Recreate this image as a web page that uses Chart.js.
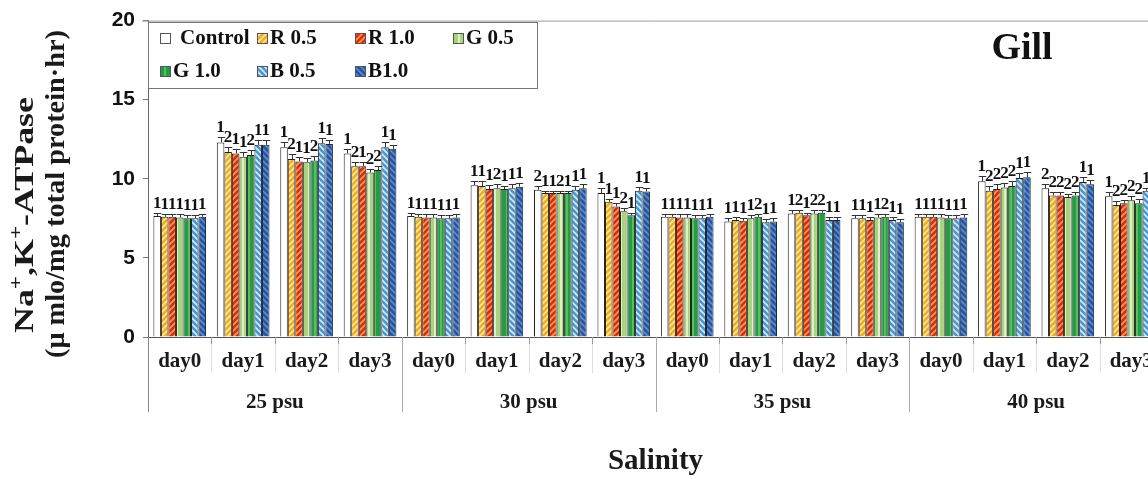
<!DOCTYPE html>
<html>
<head>
<meta charset="utf-8">
<script src="https://cdn.jsdelivr.net/npm/chart.js@4.4.1/dist/chart.umd.min.js"></script>
<style>
  html, body { margin: 0; padding: 0; background: #fff; overflow: hidden; }
  #wrap { width: 1166px; height: 479px; }
</style>
</head>
<body>
<div id="wrap"><canvas id="graph" width="1166" height="479"></canvas></div>
<script>
// categories
var dayLabels = ['day0', 'day1', 'day2', 'day3', 'day0', 'day1', 'day2', 'day3',
                 'day0', 'day1', 'day2', 'day3', 'day0', 'day1', 'day2', 'day3'];
var psuLabels = ['25 psu', '30 psu', '35 psu', '40 psu'];
var seriesNames = ['Control', 'R 0.5', 'R 1.0', 'G 0.5', 'G 1.0', 'B 0.5', 'B1.0'];

// values (25 psu d0-d3, 30 psu d0-d3, 35 psu d0-d3, 40 psu d0-d3)
var control = [7.65, 12.3, 12.0, 11.6, 7.65, 9.6, 9.3, 9.1, 7.6, 7.3, 7.8, 7.5, 7.6, 9.85, 9.4, 8.9];
var r05 = [7.6, 11.7, 11.25, 10.8, 7.6, 9.55, 9.1, 8.55, 7.6, 7.4, 7.85, 7.5, 7.6, 9.25, 8.95, 8.35];
var r10 = [7.6, 11.6, 11.1, 10.8, 7.55, 9.35, 9.1, 8.25, 7.55, 7.35, 7.7, 7.4, 7.6, 9.35, 8.95, 8.45];
var g05 = [7.55, 11.4, 11.05, 10.4, 7.55, 9.4, 9.1, 7.95, 7.55, 7.5, 7.8, 7.55, 7.55, 9.45, 8.85, 8.65];
var g10 = [7.5, 11.5, 11.15, 10.55, 7.5, 9.35, 9.1, 7.7, 7.5, 7.6, 7.85, 7.6, 7.5, 9.55, 8.95, 8.45];
var b05 = [7.5, 12.15, 12.25, 12.0, 7.5, 9.4, 9.3, 9.25, 7.5, 7.25, 7.4, 7.4, 7.5, 10.05, 9.8, 9.25];
var b10 = [7.6, 12.15, 12.2, 11.9, 7.55, 9.5, 9.4, 9.2, 7.6, 7.3, 7.4, 7.25, 7.55, 10.1, 9.65, 9.2];

// error bars
var controlErr = [0.2, 0.35, 0.3, 0.3, 0.2, 0.25, 0.25, 0.3, 0.2, 0.2, 0.2, 0.2, 0.2, 0.3, 0.3, 0.25];
var r05Err = [0.2, 0.3, 0.3, 0.25, 0.2, 0.3, 0.15, 0.2, 0.2, 0.2, 0.2, 0.2, 0.2, 0.3, 0.2, 0.25];
var r10Err = [0.2, 0.3, 0.25, 0.25, 0.2, 0.25, 0.15, 0.2, 0.2, 0.2, 0.15, 0.2, 0.2, 0.3, 0.2, 0.2];
var g05Err = [0.2, 0.3, 0.25, 0.25, 0.2, 0.25, 0.15, 0.2, 0.2, 0.2, 0.2, 0.2, 0.2, 0.3, 0.2, 0.25];
var g10Err = [0.2, 0.3, 0.3, 0.25, 0.2, 0.2, 0.15, 0.15, 0.2, 0.2, 0.2, 0.2, 0.2, 0.3, 0.2, 0.25];
var b05Err = [0.2, 0.3, 0.3, 0.3, 0.2, 0.25, 0.25, 0.25, 0.2, 0.2, 0.2, 0.2, 0.2, 0.3, 0.3, 0.2];
var b10Err = [0.2, 0.3, 0.25, 0.25, 0.2, 0.25, 0.25, 0.25, 0.2, 0.2, 0.2, 0.2, 0.2, 0.3, 0.3, 0.2];

// significance marks above bars
var controlSig = ['1','1','1','1', '1','1','2','1', '1','1','1','1', '1','1','2','1'];
var r05Sig = ['1','2','2','2', '1','1','1','1', '1','1','2','1', '1','2','2','2'];
var r10Sig = ['1','1','1','1', '1','1','1','1', '1','1','1','1', '1','2','2','2'];
var g05Sig = ['1','1','1','2', '1','2','2','2', '1','1','2','1', '1','2','2','2'];
var g10Sig = ['1','2','2','2', '1','1','1','1', '1','2','2','2', '1','2','2','2'];
var b05Sig = ['1','1','1','1', '1','1','1','1', '1','1','1','1', '1','1','1','1'];
var b10Sig = ['1','1','1','1', '1','1','1','1', '1','1','1','1', '1','1','1','1'];

var serif = '"Liberation Serif", "Times New Roman", serif';

var ctx = document.getElementById('graph').getContext('2d');

// 縞模様のパターン
function makePattern(base, stripe, kind) {
  var c = document.createElement('canvas');
  c.width = 6; c.height = 6;
  var g = c.getContext('2d');
  g.fillStyle = base;
  g.fillRect(0, 0, 6, 6);
  g.strokeStyle = stripe;
  g.lineWidth = 1.6;
  g.beginPath();
  if (kind === 'up') {
    g.moveTo(-1, 7); g.lineTo(7, -1);
    g.moveTo(-1, 1); g.lineTo(1, -1);
    g.moveTo(5, 7); g.lineTo(7, 5);
  } else if (kind === 'down') {
    g.moveTo(-1, -1); g.lineTo(7, 7);
    g.moveTo(5, -1); g.lineTo(7, 1);
    g.moveTo(-1, 5); g.lineTo(1, 7);
  } else {
    g.lineWidth = 1.5;
    g.moveTo(3, 0); g.lineTo(3, 6);
  }
  g.stroke();
  return ctx.createPattern(c, 'repeat');
}

var fills = [
  '#ffffff',
  makePattern('#f5ad16', '#fde9a6', 'up'),
  makePattern('#e4261a', '#f6a23a', 'up'),
  makePattern('#a8d57a', '#f0f8e6', 'vert'),
  makePattern('#1f9e45', '#6fc864', 'vert'),
  makePattern('#4797d4', '#d6ebfa', 'down'),
  makePattern('#2455a5', '#5a8ed0', 'down')
];
var values = [control, r05, r10, g05, g10, b05, b10];
var errs = [controlErr, r05Err, r10Err, g05Err, g10Err, b05Err, b10Err];
var sigs = [controlSig, r05Sig, r10Sig, g05Sig, g10Sig, b05Sig, b10Sig];

var datasets = seriesNames.map(function(name, i) {
  return {
    label: name,
    data: values[i],
    err: errs[i],
    sig: sigs[i],
    backgroundColor: fills[i],
    borderColor: '#222',
    borderWidth: 1,
    barPercentage: 1.0,
    categoryPercentage: 0.83
  };
});

// エラーバーと有意差の数字
var errPlugin = {
  id: 'errs',
  afterDatasetsDraw: function(chart) {
    var c = chart.ctx, ys = chart.scales.y;
    c.save();
    chart.data.datasets.forEach(function(ds, i) {
      var meta = chart.getDatasetMeta(i);
      meta.data.forEach(function(bar, j) {
        var top = Math.round(ys.getPixelForValue(ds.data[j] + ds.err[j])) + 0.5;
        var half = bar.width / 2;
        var bx = Math.round(bar.x) + 0.5;
        c.strokeStyle = '#333';
        c.lineWidth = 1;
        c.beginPath();
        c.moveTo(bx, bar.y);
        c.lineTo(bx, top);
        c.moveTo(bx - half, top);
        c.lineTo(bx + half, top);
        c.stroke();
        c.fillStyle = '#111';
        c.font = 'bold 17px ' + serif;
        c.textAlign = 'center';
        c.textBaseline = 'alphabetic';
        c.fillText(ds.sig[j], bar.x, top - 6);
      });
    });
    c.restore();
  }
};

function drawRotLine(c, parts, x, y, len) {
  c.save();
  var w = 0;
  parts.forEach(function(p) {
    c.font = p.sup ? 'bold 18px ' + serif : 'bold 28px ' + serif;
    w += c.measureText(p.t).width;
  });
  c.translate(x, y);
  c.rotate(-Math.PI / 2);
  c.scale(len / w, 1);
  c.fillStyle = '#1a1a1a';
  c.textAlign = 'left';
  c.textBaseline = 'alphabetic';
  var px = 0;
  parts.forEach(function(p) {
    c.font = p.sup ? 'bold 18px ' + serif : 'bold 28px ' + serif;
    c.fillText(p.t, px, p.sup ? -11 : 0);
    px += c.measureText(p.t).width;
  });
  c.restore();
}

// 枠、区切り線、凡例、タイトル
var framePlugin = {
  id: 'frame',
  afterDraw: function(chart) {
    var c = chart.ctx, a = chart.chartArea, xs = chart.scales.x;
    c.save();
    c.lineWidth = 1;
    c.strokeStyle = '#999';
    c.beginPath();
    c.moveTo(a.left - 6, a.top + 0.5);
    c.lineTo(a.right, a.top + 0.5);
    c.stroke();

    c.strokeStyle = '#888';
    c.beginPath();
    c.moveTo(a.left + 0.5, a.bottom);
    c.lineTo(a.left + 0.5, a.bottom + 75);
    c.stroke();

    for (var k = 1; k < dayLabels.length; k++) {
      var bx = Math.round((xs.getPixelForValue(k - 1) + xs.getPixelForValue(k)) / 2) + 0.5;
      var isGroup = k % 4 === 0;
      c.strokeStyle = isGroup ? '#aaa' : '#ddd';
      c.beginPath();
      c.moveTo(bx, a.bottom);
      c.lineTo(bx, a.bottom + (isGroup ? 75 : 36));
      c.stroke();
      if (!isGroup) {
        c.strokeStyle = '#999';
        c.beginPath();
        c.moveTo(bx, a.bottom);
        c.lineTo(bx, a.bottom + 7);
        c.stroke();
      }
    }

    // legend
    c.fillStyle = '#fff';
    c.fillRect(149, 23, 388, 65);
    c.strokeStyle = '#777';
    c.strokeRect(148.5, 22.5, 389, 66);
    var cols = [160, 257, 355, 453], rows = [38, 71];
    chart.data.datasets.forEach(function(ds, i) {
      var cx = cols[i % 4], cy = rows[Math.floor(i / 4)];
      c.fillStyle = ds.backgroundColor;
      c.fillRect(cx, cy - 5, 11, 11);
      c.strokeStyle = '#555';
      c.strokeRect(cx + 0.5, cy - 4.5, 10, 10);
      c.fillStyle = '#111';
      c.font = 'bold 21px ' + serif;
      c.textAlign = 'left';
      c.textBaseline = 'middle';
      c.fillText(ds.label, cx + (i === 0 ? 20 : 13), cy + 1);
    });

    // Gill
    c.fillStyle = '#111';
    c.font = 'bold 38px ' + serif;
    c.textAlign = 'center';
    c.textBaseline = 'alphabetic';
    c.fillText('Gill', 1022, 59);

    // y title
    drawRotLine(c, [{t: 'Na'}, {t: '+', sup: true}, {t: ',K'}, {t: '+', sup: true}, {t: '-ATPase'}], 33, 333, 236);
    drawRotLine(c, [{t: '(\u03bc mlo/mg total protein\u00b7hr)'}], 64, 358, 328);
    c.restore();
  }
};

var config = {
  type: 'bar',
  data: { labels: dayLabels, datasets: datasets },
  options: {
    responsive: false,
    animation: false,
    layout: { padding: { top: 20, right: 3, left: 0, bottom: 0 } },
    plugins: {
      legend: { display: false },
      tooltip: { enabled: false }
    },
    scales: {
      x: {
        type: 'category',
        offset: true,
        grid: { display: false },
        border: { display: true, color: '#555' },
        ticks: {
          font: { family: serif, size: 21, weight: 'bold' },
          color: '#1a1a1a',
          maxRotation: 0,
          autoSkip: false,
          padding: 4
        },
        afterFit: function(scale) { scale.height = 40; }
      },
      x2: {
        type: 'category',
        position: 'bottom',
        labels: psuLabels,
        offset: true,
        grid: { display: false },
        border: { display: false },
        ticks: {
          font: { family: serif, size: 21, weight: 'bold' },
          color: '#1a1a1a',
          maxRotation: 0,
          autoSkip: false,
          padding: 5
        },
        title: {
          display: true,
          text: 'Salinity',
          font: { family: serif, size: 29, weight: 'bold' },
          color: '#1a1a1a',
          padding: { top: 0, bottom: 0 }
        },
        afterFit: function(scale) { scale.height = 102; }
      },
      y: {
        min: 0,
        max: 20,
        ticks: {
          stepSize: 5,
          font: { family: '"Liberation Sans", Arial, sans-serif', size: 21, weight: 'bold' },
          color: '#111',
          padding: 8
        },
        grid: { drawOnChartArea: false, tickLength: 5, color: '#777' },
        border: { color: '#666' },
        afterFit: function(scale) { scale.width = 148; }
      }
    }
  },
  plugins: [errPlugin, framePlugin]
};

var myChart = new Chart(ctx, config);
</script>
</body>
</html>
